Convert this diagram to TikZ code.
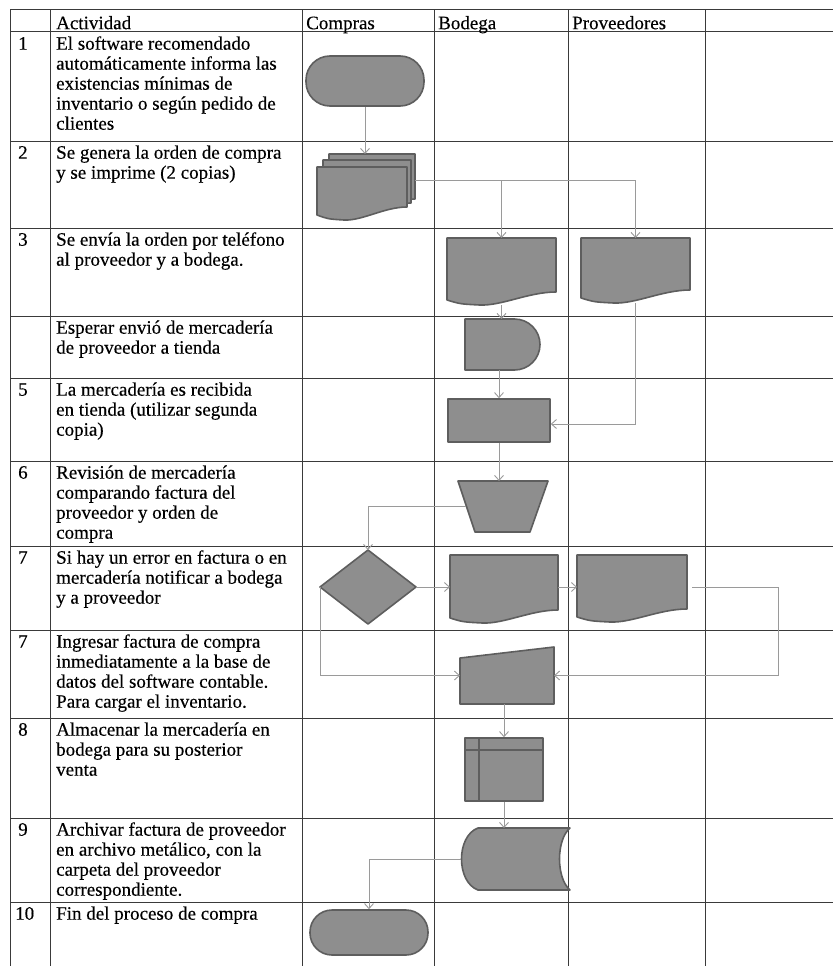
\documentclass[tikz,border=0pt]{standalone}
\usepackage{fontspec}
\setmainfont{Liberation Serif}[FakeBold=0.3]
\usetikzlibrary{arrows.meta,calc}
\definecolor{shfill}{HTML}{8E8E8E}
\definecolor{shline}{HTML}{5E5E5E}
\definecolor{conncol}{HTML}{9A9A9A}
\definecolor{gridcol}{HTML}{3A3A3A}
\tikzset{
  shp/.style={fill=shfill, draw=shline, line width=1.6pt, line join=round},
  abox/.style={draw=none, inner sep=0pt, outer sep=0pt, rectangle},
  conn/.style={draw=conncol, line width=0.9pt, -{Straight Barb[length=5pt,width=9pt]}},
  gridln/.style={draw=gridcol, line width=1pt},
  txt/.style={anchor=north west, inner sep=0pt, align=left, font=\fontsize{19}{20}\selectfont},
}
\newcommand{\docpath}[4]{(#1,#2) -- (#3,#2) -- (#3,{#4-13}) .. controls ({#1+0.75*(#3-#1)},{#4-13}) and ({#1+0.5*(#3-#1)},{#4+1}) .. ({#1+0.3*(#3-#1)},#4) .. controls ({#1+0.12*(#3-#1)},{#4-1}) .. (#1,{#4-5}) -- cycle}
\newcommand{\docnode}[5]{%
  \node[abox, minimum width={(#4-#2)*1pt}, minimum height={(#5-#3)*1pt}] (#1) at ({(#2+#4)/2},{(#3+#5)/2}) {};
  \filldraw[shp] \docpath{#2}{#3}{#4}{#5};}
\begin{document}
\begin{tikzpicture}[x=1pt,y=-1pt]
\useasboundingbox (0,0) rectangle (833,966);
% ---------- table grid ----------
\foreach \yy in {10,32,141,228,316,378,461,546,630,718,818,902}
  \draw[gridln] (10,\yy) -- (833,\yy);
\foreach \xx in {10,50,302,434,568,705}
  \draw[gridln] (\xx,10) -- (\xx,966);
% ---------- header ----------
\node[txt] (hA) at (56,15) {\strut Actividad};
\node[txt] (hC) at (306,15) {\strut Compras};
\node[txt] (hB) at (438,15) {\strut Bodega};
\node[txt] (hP) at (572,15) {\strut Proveedores};
% ---------- numbers ----------
\node[txt] (n1) at (18,35.5) {\strut 1};
\node[txt] (n2) at (18,144.5) {\strut 2};
\node[txt] (n3) at (18,231.5) {\strut 3};
\node[txt] (n5) at (18,381.5) {\strut 5};
\node[txt] (n6) at (18,464.5) {\strut 6};
\node[txt] (n7) at (18,549.5) {\strut 7};
\node[txt] (n7b) at (18,633.5) {\strut 7};
\node[txt] (n8) at (18,721.5) {\strut 8};
\node[txt] (n9) at (18,821.5) {\strut 9};
\node[txt] (n10) at (15,905.5) {\strut 10};
% ---------- activities ----------
\node[txt] (a1) at (56,35.5) {\strut El software recomendado\\automáticamente informa las\\existencias mínimas de\\inventario o según pedido de\\clientes};
\node[txt] (a2) at (56,144.5) {\strut Se genera la orden de compra\\y se imprime (2 copias)};
\node[txt] (a3) at (56,231.5) {\strut Se envía la orden por teléfono\\al proveedor y a bodega.};
\node[txt] (a4) at (56,319.5) {\strut Esperar envió de mercadería\\de proveedor a tienda};
\node[txt] (a5) at (56,381.5) {\strut La mercadería es recibida\\en tienda (utilizar segunda\\copia)};
\node[txt] (a6) at (56,464.5) {\strut Revisión de mercadería\\comparando factura del\\proveedor y orden de\\compra};
\node[txt] (a7) at (56,549.5) {\strut Si hay un error en factura o en\\mercadería notificar a bodega\\y a proveedor};
\node[txt] (a7b) at (56,633.5) {\strut Ingresar factura de compra\\inmediatamente a la base de\\datos del software contable.\\Para cargar el inventario.};
\node[txt] (a8) at (56,721.5) {\strut Almacenar la mercadería en\\bodega para su posterior\\venta};
\node[txt] (a9) at (56,821.5) {\strut Archivar factura de proveedor\\en archivo metálico, con la\\carpeta del proveedor\\correspondiente.};
\node[txt] (a10) at (56,905.5) {\strut Fin del proceso de compra};
% ---------- shapes ----------
\node[shp, rounded corners=24pt, inner sep=0pt, minimum width=118pt, minimum height=50pt] (t1) at (365,81) {};
% multi document
\node[abox, minimum width=98pt, minimum height=66pt] (m2) at (366,187) {};
\filldraw[shp] \docpath{329}{154}{415}{212};
\filldraw[shp] \docpath{323}{160}{411}{216};
\filldraw[shp] \docpath{317}{167}{407}{220};
% documents row 3
\docnode{b3}{447}{238}{556}{305}
\docnode{p3}{581}{238}{690}{303}
% delay
\node[abox, minimum width=75pt, minimum height=51pt] (d4) at (502.5,344.5) {};
\filldraw[shp] (465,319) -- (514.5,319) arc[start angle=90, end angle=-90, radius=25.5pt] -- (465,370) -- cycle;
% process
\node[shp, inner sep=0pt, minimum width=102pt, minimum height=43pt] (r5) at (499,420.5) {};
% manual operation
\node[abox, minimum width=90pt, minimum height=51pt] (o6) at (503,506.5) {};
\filldraw[shp] (458,481) -- (548,481) -- (530,532) -- (475,532) -- cycle;
% decision
\node[abox, minimum width=96pt, minimum height=74pt] (dia) at (368,587) {};
\filldraw[shp] (320,587) -- (368,550) -- (416,587) -- (368,624) -- cycle;
% documents row 7
\docnode{b7}{450}{555}{558}{623}
\docnode{p7}{577}{555}{687}{622}
% manual input
\node[abox, minimum width=94pt, minimum height=57pt] (i8) at (507,675.5) {};
\filldraw[shp] (460,658) -- (554,647) -- (554,704) -- (460,704) -- cycle;
% internal storage
\node[shp, inner sep=0pt, minimum width=78pt, minimum height=63pt] (s9) at (504,769.5) {};
\draw[shline, line width=1.6pt] (479,738) -- (479,801) (465,750) -- (543,750);
% stored data
\node[abox, minimum width=109pt, minimum height=62pt] (sd) at (515.5,859) {};
\filldraw[shp] (478,828) -- (570,828) .. controls (556,840) and (556,878) .. (570,890) -- (478,890) .. controls (456,882) and (456,836) .. (478,828) -- cycle;
% terminal end
\node[shp, rounded corners=22pt, inner sep=0pt, minimum width=118pt, minimum height=45pt] (t10) at (369,932.5) {};
% ---------- connectors ----------
\draw[conn] (t1.south) -- (t1.south |- m2.north);
\draw[conn] ([yshift=7pt]m2.east) -| (p3.north);
\draw[conn] ([yshift=7pt]m2.east) -| (b3.north);
\draw[conn] (b3.south) -- (b3.south |- d4.north);
\draw[conn] (p3.south) |- ([yshift=-3.5pt]r5.east);
\draw[conn] (d4.south -| r5.north) -- (r5.north);
\draw[conn] (r5.south) -- (r5.south |- o6.north);
\draw[conn] ([xshift=8pt]o6.west) -| (dia.north);
\draw[conn] (dia.east) -- (dia.east -| b7.west);
\draw[conn] ([yshift=2pt]b7.east) -- ([yshift=2pt]b7.east -| p7.west);
\coordinate (rr) at (778,587);
\draw[conn] ([xshift=5pt,yshift=1.5pt]p7.east) -- (rr) -- (rr |- i8.east) -- (i8.east);
\draw[conn] (dia.west) |- (i8.west);
\draw[conn] (s9.north |- i8.south) -- (s9.north);
\draw[conn] (s9.south) -- (s9.south |- sd.north);
\draw[conn] (sd.west) -| (t10.north);
\end{tikzpicture}
\end{document}
